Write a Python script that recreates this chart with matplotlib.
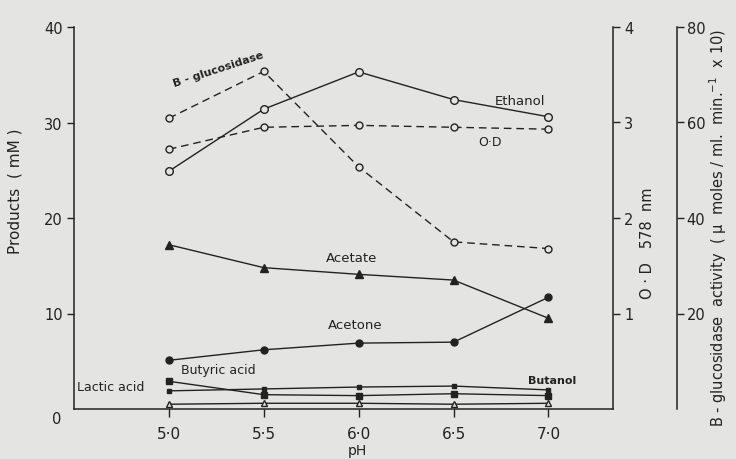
import numpy as np
import matplotlib
matplotlib.use("Agg")
import matplotlib.pyplot as plt

# pH series and measured values
ph = [5.0, 5.5, 6.0, 6.5, 7.0]
ph_labels = ["5·0", "5·5", "6·0", "6·5", "7·0"]

# products, mM
ethanol = [24.9, 31.4, 35.3, 32.4, 30.6]
acetate = [17.2, 14.8, 14.1, 13.5, 9.5]
acetone = [5.1, 6.2, 6.9, 7.0, 11.7]
butyric = [2.9, 1.5, 1.4, 1.6, 1.4]
lactic = [1.9, 2.1, 2.3, 2.4, 2.0]
butanol = [0.5, 0.6, 0.6, 0.5, 0.6]

# optical density at 578 nm
od = [2.72, 2.95, 2.97, 2.95, 2.93]

# b-glucosidase activity (umoles/ml.min x 10)
bgluc = [60.9, 70.7, 50.7, 35.0, 33.6]

W, H = 736, 460
BG = "#e4e4e2"
INK = "#222222"
DASH = (0, (5.5, 3.5))

def fx(px):
	return px / W

def fy(py):
	return 1 - py / H

fig = plt.figure(figsize=(W / 100, H / 100), dpi=100, facecolor=BG)

left, right, bottom, top = 74, 613, 410, 28
ax = fig.add_axes([fx(left), fy(bottom), (right - left) / W, (bottom - top) / H])
ax.set_facecolor(BG)
ax.set_xlim(4.5, 7.34)
ax.set_ylim(0, 40)

ax_od = ax.twinx()
ax_od.set_ylim(0, 4)
ax_bg = ax.twinx()
ax_bg.set_ylim(0, 80)
ax_bg.spines["right"].set_position(("axes", (677 - left) / (right - left)))

for a in (ax, ax_od, ax_bg):
	for s in a.spines.values():
		s.set_color(INK)
		s.set_linewidth(1.1)
ax.spines["top"].set_visible(False)
ax.spines["right"].set_visible(False)
ax.spines["left"].set_bounds(0, 40)
for a in (ax_od, ax_bg):
	for side in ("top", "left", "bottom"):
		a.spines[side].set_visible(False)

lw = 1.0
# solid product curves
ax.plot(ph, ethanol, color=INK, lw=lw, marker="o", ms=5.5, mfc=BG, mec=INK, mew=1)
ax.plot(ph, acetate, color=INK, lw=lw, marker="^", ms=6, mfc=INK, mec=INK)
ax.plot(ph, acetone, color=INK, lw=lw, marker="o", ms=5, mfc=INK, mec=INK)
ax.plot(ph, butyric, color=INK, lw=lw, marker="s", ms=4.5, mfc=INK, mec=INK)
ax.plot(ph, lactic, color=INK, lw=lw, marker="s", ms=2.5, mfc=INK, mec=INK)
ax.plot(ph, butanol, color=INK, lw=lw, marker="^", ms=5, mfc=BG, mec=INK, mew=1)

# dashed curves on their own scales
ax_od.plot(ph, od, color=INK, lw=lw, ls=DASH, marker="o", ms=5, mfc=BG, mec=INK, mew=1)
ax_bg.plot(ph, bgluc, color=INK, lw=lw, ls=DASH, marker="o", ms=5, mfc=BG, mec=INK, mew=1)

ax.set_xticks(ph)
ax.set_xticklabels(ph_labels)
ax.set_yticks([10, 20, 30, 40])
ax.tick_params(axis="x", direction="out", length=6, width=1, labelsize=11, pad=6, colors=INK)
ax.tick_params(axis="y", direction="out", length=5, width=1, labelsize=10.5, pad=3, colors=INK)

ax_od.set_yticks([1, 2, 3, 4])
ax_od.tick_params(axis="y", direction="out", length=5, width=1, labelsize=10.5, pad=3, colors=INK)
ax_bg.set_yticks([20, 40, 60, 80])
ax_bg.tick_params(axis="y", direction="out", length=5, width=1, labelsize=10.5, pad=2, colors=INK)

# curve labels
ax.text(5.26, 35.6, "B - glucosidase", fontsize=8, fontweight="bold", rotation=18,
	ha="center", va="center", color=INK)
ax.text(6.85, 32.3, "Ethanol", fontsize=9.5, ha="center", va="center", color=INK)
ax.text(6.69, 28.0, "O·D", fontsize=9, ha="center", va="center", color=INK)
ax.text(5.96, 15.9, "Acetate", fontsize=9.5, ha="center", va="center", color=INK)
ax.text(5.98, 8.8, "Acetone", fontsize=9.5, ha="center", va="center", color=INK)
ax.text(5.26, 4.1, "Butyric acid", fontsize=9, ha="center", va="center", color=INK)
ax.text(4.695, 2.4, "Lactic acid", fontsize=9, ha="center", va="center", color=INK)
ax.text(7.02, 3.0, "Butanol", fontsize=8, fontweight="bold", ha="center", va="center", color=INK)

# axis titles
fig.text(fx(57), fy(420), "0", fontsize=10.5, ha="center", va="center", color=INK)
fig.text(fx(357), fy(451), "pH", fontsize=10, ha="center", va="center", color=INK)
fig.text(fx(15), fy(191), "Products  ( mM )", fontsize=11, rotation=90,
	ha="center", va="center", color=INK)
fig.text(fx(648), fy(243), "O · D   578  nm", fontsize=10.5, rotation=90,
	ha="center", va="center", color=INK)
fig.text(fx(718), fy(228), "B - glucosidase  activity  ( μ  moles / ml.  min.$^{-1}$  x 10)",
	fontsize=10.5, rotation=90, ha="center", va="center", color=INK)

fig.savefig("out.png", dpi=100, facecolor=BG)
